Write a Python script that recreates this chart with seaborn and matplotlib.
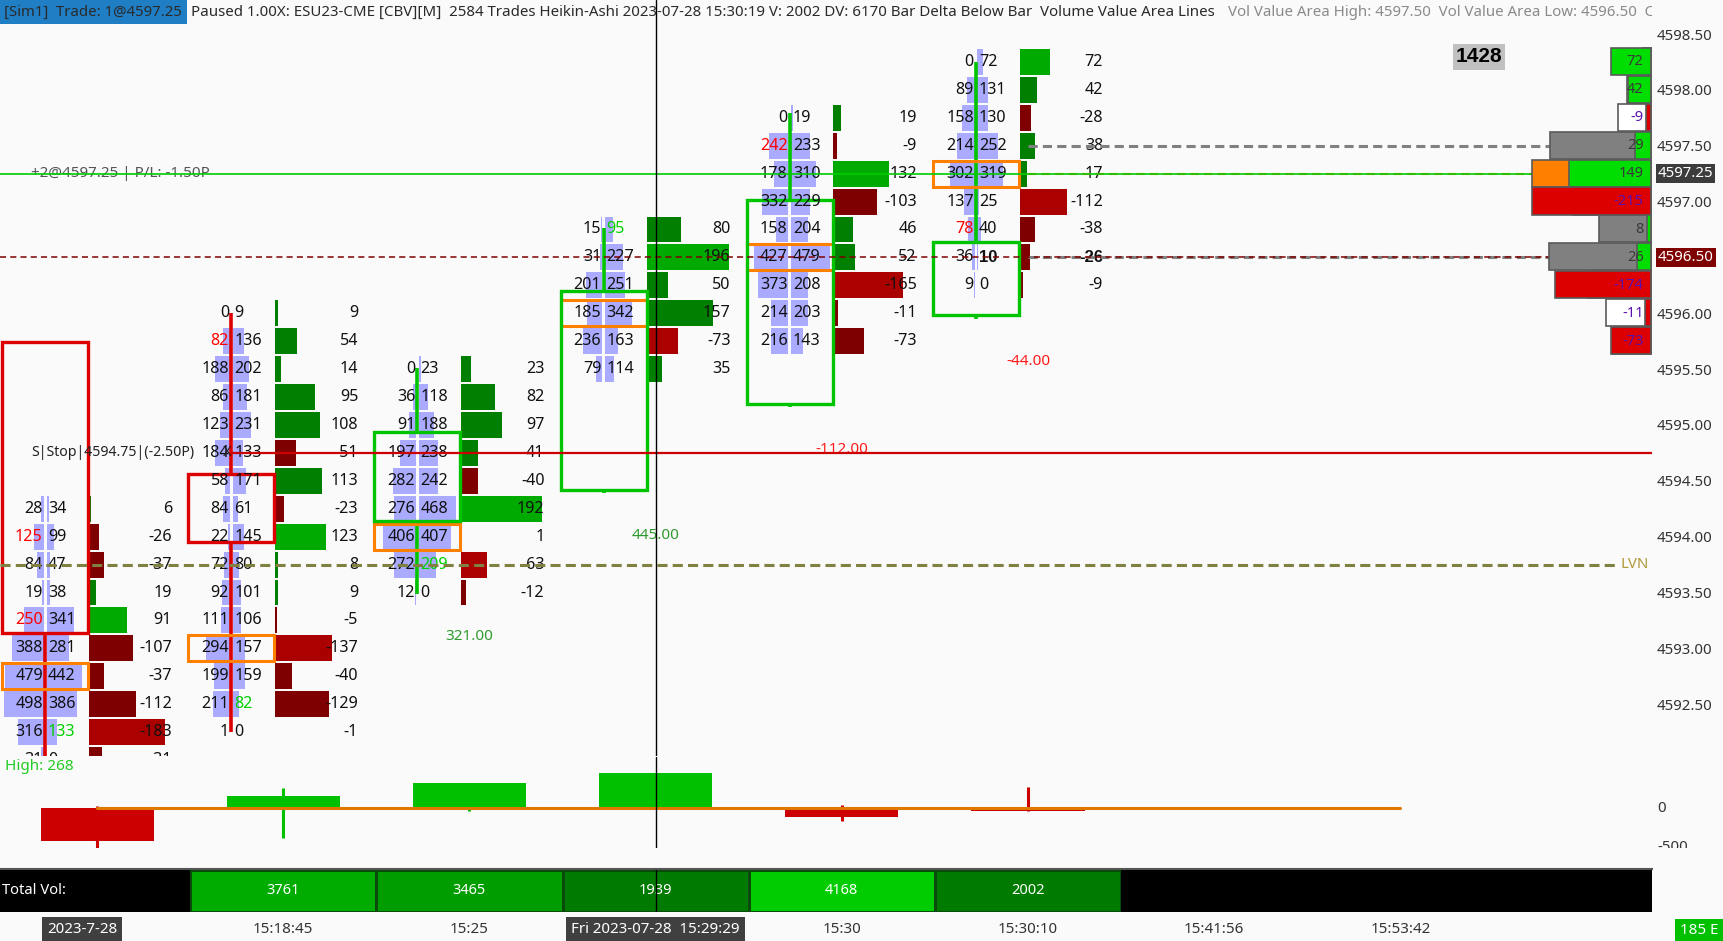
import numpy as np
import pandas as pd
import matplotlib
matplotlib.use("Agg")
import matplotlib.pyplot as plt
import matplotlib.transforms as mtransforms
from matplotlib.patches import Rectangle
from matplotlib.colors import LinearSegmentedColormap
import seaborn as sns

# ---------------- data ----------------
TICK = 0.25
bar_top = [4594.25, 4596.00, 4595.50, 4596.75, 4597.75, 4598.25]
bid_b1 = [28, 125, 84, 19, 250, 388, 479, 498, 316, 31]
ask_b1 = [34, 99, 47, 38, 341, 281, 442, 386, 133, 0]
bid_b2 = [0, 82, 188, 86, 123, 184, 58, 84, 22, 72, 92, 111, 294, 199, 211, 1]
ask_b2 = [9, 136, 202, 181, 231, 133, 171, 61, 145, 80, 101, 106, 157, 159, 82, 0]
bid_b3 = [0, 36, 91, 197, 282, 276, 406, 272, 12]
ask_b3 = [23, 118, 188, 238, 242, 468, 407, 209, 0]
bid_b4 = [15, 31, 201, 185, 236, 79]
ask_b4 = [95, 227, 251, 342, 163, 114]
bid_b5 = [0, 242, 178, 332, 158, 427, 373, 214, 216]
ask_b5 = [19, 233, 310, 229, 204, 479, 208, 203, 143]
bid_b6 = [0, 89, 158, 214, 302, 137, 78, 36, 9]
ask_b6 = [72, 131, 130, 252, 319, 25, 40, 10, 0]

ha_open = [4595.74, 4594.56, 4594.14, 4594.42, 4595.19, 4595.98]
ha_close = [4593.14, 4593.95, 4594.94, 4596.20, 4597.01, 4596.64]
ha_high = [4595.74, 4596.00, 4595.51, 4596.76, 4597.79, 4598.25]
ha_low = [4591.75, 4592.25, 4593.49, 4594.39, 4595.16, 4595.95]

delta_high = [30, 250, 321, 445, 40, 260]
delta_low = [-540, -380, -40, 0, -170, -44]

time_labels = ["2023-7-28", "15:18:45", "15:25", "Fri 2023-07-28  15:29:29",
               "15:30", "15:30:10", "15:41:56", "15:53:42"]
price_ticks = [4592.5, 4593.0, 4593.5, 4594.0, 4594.5, 4595.0,
               4595.5, 4596.0, 4596.5, 4597.0, 4597.5, 4598.0, 4598.5]
low_ticks = [0, -500]

position_price = 4597.25
stop_price = 4594.75
last_price = 4596.50
lvn_price = 4593.75
va_high = 4597.50
va_low = 4596.50
profile_start = 4
crosshair_slot = 3
imbalance_ratio = 3

bids = [bid_b1, bid_b2, bid_b3, bid_b4, bid_b5, bid_b6]
asks = [ask_b1, ask_b2, ask_b3, ask_b4, ask_b5, ask_b6]

# ---------------- style ----------------
sns.set_theme(style="white")
plt.rcParams["font.family"] = ["Noto Sans", "DejaVu Sans"]
plt.rcParams["axes.unicode_minus"] = False
BOLD_FAM = ["Liberation Sans", "DejaVu Sans"]

BG = "#FAFAFA"
LAV = "#AAAAFF"
G_HI, G_LO = "#00AA00", "#007F00"
R_HI, R_LO = "#AA0000", "#7F0000"
CAN_G, CAN_R = "#00C400", "#DD0000"
ORANGE = "#FF8000"
TXT = "#111111"

W, H = 1723, 941
PX_SLOT = 186.2
X0 = 97.0
PANEL_R = 1652
PX_PRICE = 111.7
Y_REF = 34.0
DU = 12.6  # delta units per px (lower panel)
LOW_TOP, LOW_ZERO, LOW_BOT = 757, 808, 848


def sx(px):
    return (px - X0) / PX_SLOT


def rect(x0, y0, x1, y1):
    return [x0 / W, 1 - y1 / H, (x1 - x0) / W, (y1 - y0) / H]


FP_OFF = sx(45)
BOX_L, BOX_R = sx(2), sx(88)
DBAR_L = sx(88.5)
DTXT_R = sx(172)
GAP = 1.5 / PX_SLOT
KV = 0.08 / PX_SLOT
KD = 0.42 / PX_SLOT
CELL_H = 0.232
FS = 11.6

fig = plt.figure(figsize=(W / 100, H / 100), dpi=100, facecolor=BG)

# ---------------- main price panel ----------------
ax = fig.add_axes(rect(0, 0, PANEL_R, 756))
ax.set_facecolor(BG)
top_tick = max(price_ticks)
ax.set_xlim(sx(0), sx(PANEL_R))
ax.set_ylim(top_tick - (756 - Y_REF) / PX_PRICE, top_tick + Y_REF / PX_PRICE)
for s in ax.spines.values():
    s.set_visible(False)
ax.set_xticks([])
ax.yaxis.tick_right()
ax.set_yticks(price_ticks)
ax.set_yticklabels([f"{p:.2f}" for p in price_ticks])
ax.tick_params(axis="y", length=0, pad=3.6, labelsize=10.8, labelcolor="#333333")

for i, (top, b, a) in enumerate(zip(bar_top, bids, asks)):
    b = np.asarray(b)
    a = np.asarray(a)
    n = len(b)
    prices = top - TICK * np.arange(n)
    d = a - b
    xc = i + FP_OFF
    ax.barh(prices, -b * KV, left=xc - GAP, height=CELL_H, color=LAV, zorder=2, linewidth=0)
    ax.barh(prices, a * KV, left=xc + GAP, height=CELL_H, color=LAV, zorder=2, linewidth=0)
    cols = [(G_HI if v == d.max() else G_LO) if v >= 0 else (R_HI if v == d.min() else R_LO) for v in d]
    ax.barh(prices, np.abs(d) * KD, left=i + DBAR_L, height=CELL_H, color=cols, zorder=2, linewidth=0)

    poc = prices[np.argmax(a + b)]
    ax.add_patch(Rectangle((i + BOX_L, poc - 0.117), BOX_R - BOX_L, 0.234, fill=False,
                           ec=ORANGE, lw=2.2, zorder=4))

    o, c = ha_open[i], ha_close[i]
    col = CAN_G if c >= o else CAN_R
    lo_b, hi_b = min(o, c), max(o, c)
    ax.add_patch(Rectangle((i + BOX_L, lo_b), BOX_R - BOX_L, hi_b - lo_b, fill=False,
                           ec=col, lw=2.4, zorder=4))
    if ha_high[i] > hi_b:
        ax.plot([xc, xc], [hi_b, ha_high[i]], color=col, lw=2.6, zorder=3, solid_capstyle="butt")
    if ha_low[i] < lo_b:
        ax.plot([xc, xc], [ha_low[i], lo_b], color=col, lw=2.6, zorder=3, solid_capstyle="butt")

    for k in range(n):
        bid_col = "#FF0000" if (k > 0 and b[k] > 0 and b[k] >= imbalance_ratio * a[k - 1]) else TXT
        ask_col = "#00D000" if (k < n - 1 and a[k] > 0 and a[k] >= imbalance_ratio * b[k + 1]) else TXT
        bold = (i == len(bids) - 1 and prices[k] == last_price)
        bkw = dict(fontweight="bold", family=BOLD_FAM, fontsize=FS + 0.4) if bold else dict(fontsize=FS)
        ax.text(xc - 0.012, prices[k], str(b[k]), ha="right", va="center", fontsize=FS,
                color=bid_col, zorder=5, clip_on=True)
        ax.text(xc + 0.016, prices[k], str(a[k]), ha="left", va="center",
                color=ask_col, zorder=5, clip_on=True, **bkw)
        ax.text(i + DTXT_R, prices[k], str(d[k]), ha="right", va="center",
                color=TXT, zorder=5, clip_on=True, **bkw)

    tot_delta = int(d.sum())
    ax.text(i, ha_low[i] - 0.38, f"{tot_delta:.2f}", ha="center", va="center", fontsize=11,
            color="#2E9B2E" if tot_delta >= 0 else "#FF1A1A", zorder=5, clip_on=True)

# ---------------- horizontal lines ----------------
R = sx(1651)
ax.axhline(position_price, color="#00CC00", lw=1.2, zorder=6.7)
ax.hlines(stop_price, 1 + FP_OFF, sx(PANEL_R), color="#CC0000", lw=1.6, zorder=6)
ax.hlines(lvn_price, sx(0), R - 0.18, color="#808040", lw=2.2, ls=(0, (3.3, 1.7)), zorder=6)
ax.text(R - 0.165, lvn_price, "LVN", ha="left", va="center", fontsize=10.8, color="#B09A3A", zorder=6)
last_bar = len(bids) - 1
for p in (va_high, va_low):
    ax.hlines(p, last_bar, R, color="#808080", lw=2.2, ls=(0, (3, 1.7)), zorder=6.2)

# ---------------- volume profile (last bars) ----------------
prof = {}
for i in range(profile_start, len(bids)):
    prices = bar_top[i] - TICK * np.arange(len(bids[i]))
    for p, b, a in zip(prices, bids[i], asks[i]):
        v0, d0 = prof.get(p, (0, 0))
        prof[p] = (v0 + b + a, d0 + a - b)
pdf = pd.DataFrame([(p, v, dd) for p, (v, dd) in prof.items()], columns=["price", "vol", "delta"])
prof_poc = pdf.loc[pdf["vol"].idxmax(), "price"]
ax.hlines(prof_poc, last_bar, R, color=ORANGE, lw=1.5, ls=(0, (4, 2.5)), zorder=6.2)
ax.axhline(last_price, color="#7F0000", lw=1.1, ls=(0, (4, 2.7)), zorder=6.6)

WMAX = 119 / PX_SLOT
vmax = pdf["vol"].max()
dmax = pdf["delta"].abs().max()
for _, r in pdf.iterrows():
    p, v, dd = r["price"], r["vol"], r["delta"]
    vw = v / vmax * WMAX
    if p == prof_poc:
        fc = ORANGE
    elif va_low <= p <= va_high:
        fc = "#808080"
    else:
        fc = "white"
    ax.add_patch(Rectangle((R - vw, p - CELL_H / 2), vw, CELL_H + 0.01, fc=fc, ec="#5A5A5A",
                           lw=1.2, zorder=7))
    dw = abs(dd) / dmax * WMAX
    ax.add_patch(Rectangle((R - dw, p - CELL_H / 2), dw, CELL_H + 0.01,
                           fc="#00DD00" if dd >= 0 else "#DD0000", ec="#5A5A5A", lw=1.2, zorder=7.1))
    ax.text(R - 0.04, p, str(int(dd)), ha="right", va="center", fontsize=10.5,
            color="#3A3A3A" if dd >= 0 else "#5A10B0", zorder=8)

# right-axis highlighted prices
btrans = mtransforms.blended_transform_factory(ax.transAxes, ax.transData)
ax.text(1 + 6 / PANEL_R, position_price, f"{position_price:.2f}", transform=btrans, ha="left",
        va="center", fontsize=10.8, color="white", zorder=10, clip_on=False,
        bbox=dict(boxstyle="square,pad=0.12", fc="#3C3C3C", ec="none"))
ax.text(1 + 6 / PANEL_R, last_price, f"{last_price:.2f}", transform=btrans, ha="left",
        va="center", fontsize=10.8, color="white", zorder=10, clip_on=False,
        bbox=dict(boxstyle="square,pad=0.12", fc="#7F0000", ec="none"))

# order texts
t_pos = ax.text(sx(31), position_price, f"+2@{position_price:.2f} | P/L: -1.50P", ha="left",
                va="center", fontsize=10.5, color="#555555", zorder=5.5)
t_stop = ax.text(sx(31), stop_price, f"S|Stop|{stop_price:.2f}|(-2.50P)", ha="left",
                 va="center", fontsize=10.5, color="#222222", zorder=5.5)
ax.text(sx(227), stop_price, "X", ha="center", va="center", fontsize=10.5, color="#222222", zorder=6.5)

# crosshair
ax.axvline(crosshair_slot, color="black", lw=1.0, zorder=9)

# "1428" box
ax.text(1479 / PANEL_R, 1 - 57 / 756, "1428", transform=ax.transAxes, ha="center", va="center",
        fontsize=15, fontweight="bold", family=BOLD_FAM, color="black", zorder=10,
        bbox=dict(boxstyle="square,pad=0.15", fc="#C0C0C0", ec="none"))

# header
ax.add_patch(Rectangle((0, 1 - 24 / 756), 187 / PANEL_R, 24 / 756, transform=ax.transAxes,
                       fc="#1F7EC4", ec="none", zorder=20, clip_on=False))
hy = 1 - 12 / 756
h1 = ax.text(4 / PANEL_R, hy, f"[Sim1]  Trade: 1@{position_price:.2f}", transform=ax.transAxes,
             ha="left", va="center", fontsize=11, color="#2A2A2A", zorder=21)
h2 = ax.text(191 / PANEL_R, hy,
             "Paused 1.00X: ESU23-CME [CBV][M]  2584 Trades Heikin-Ashi 2023-07-28 15:30:19 V: 2002 "
             "DV: 6170 Bar Delta Below Bar  Volume Value Area Lines", transform=ax.transAxes,
             ha="left", va="center", fontsize=11, color="#2A2A2A", zorder=21)
h3 = ax.text(1227.5 / PANEL_R, hy,
             f"Vol Value Area High: {va_high:.2f}  Vol Value Area Low: {va_low:.2f}",
             transform=ax.transAxes, ha="left", va="center", fontsize=11, color="#8A8A8A",
             zorder=21, clip_on=True)

# ---------------- lower delta panel ----------------
axl = fig.add_axes(rect(0, LOW_TOP, W, LOW_BOT))
axl.set_facecolor(BG)
axl.set_xlim(sx(0), sx(W))
axl.set_ylim(-(LOW_BOT - LOW_ZERO) * DU, (LOW_ZERO - LOW_TOP) * DU)
for s in axl.spines.values():
    s.set_visible(False)
axl.set_xticks([])
axl.set_yticks([])
slots = np.arange(len(bids))
bar_delta = [int((np.asarray(a) - np.asarray(b)).sum()) for b, a in zip(bids, asks)]
lcols = ["#00C000" if v >= 0 else "#CC0000" for v in bar_delta]
axl.vlines(slots, delta_low, delta_high, colors=lcols, lw=2.2, zorder=2)
axl.bar(slots, bar_delta, bottom=0, width=113 / PX_SLOT, color=lcols, zorder=3, linewidth=0)
axl.plot([0, len(time_labels) - 1], [0, 0], color="#E07800", lw=2.2, zorder=4)
axl.axvline(crosshair_slot, color="black", lw=1.0, zorder=9)
for v in low_ticks:
    axl.text(sx(1657), v, f"{v}", ha="left", va="center", fontsize=10.8, color="#333333", clip_on=True)
axl.text(5 / W, (LOW_BOT - 766) / (LOW_BOT - LOW_TOP), "High: 268", transform=axl.transAxes,
         ha="left", va="center", fontsize=11, color="#22CC22")

# ---------------- total volume strip ----------------
tot_vol = [int(sum(b) + sum(a)) for b, a in zip(bids, asks)]
axt = fig.add_axes(rect(0, 869, PANEL_R, 912))
axt.set_facecolor("black")
axt.set_xlim(sx(0), sx(PANEL_R))
axt.set_ylim(0, 1)
axt.set_xticks([])
axt.set_yticks([])
for s in axt.spines.values():
    s.set_visible(False)
axt.spines["top"].set_visible(True)
axt.spines["top"].set_color("#555555")
axt.spines["top"].set_linewidth(1.5)
t_tv = axt.text(2 / PANEL_R, 0.5, "Total Vol:", transform=axt.transAxes, ha="left", va="center",
                fontsize=10.3, color="white")
axh = fig.add_axes(rect(X0 + 0.5 * PX_SLOT, 870, X0 + 5.5 * PX_SLOT, 912))
cmap = LinearSegmentedColormap.from_list("tv", [(0, "#007A00"), (0.75, "#00A000"), (1, "#00CC00")])
vals = np.array([tot_vol[1:]])
sns.heatmap(vals, ax=axh, cmap=cmap, vmin=vals.min(), vmax=vals.max(), cbar=False,
            annot=np.array([[str(v) for v in tot_vol[1:]]]), fmt="",
            annot_kws=dict(color="white", fontsize=10.5), linewidths=0.8, linecolor="#0A4A0A",
            xticklabels=False, yticklabels=False)
axh.axvline(crosshair_slot - 0.5, color="black", lw=1.0, zorder=9)

# ---------------- time axis ----------------
axtm = fig.add_axes(rect(0, 912, W, H))
axtm.set_facecolor(BG)
axtm.set_xlim(sx(0), sx(W))
axtm.set_ylim(0, 1)
axtm.set_xticks([])
axtm.set_yticks([])
for s in axtm.spines.values():
    s.set_visible(False)
for k, lab in enumerate(time_labels):
    hl = (k == 0) or (k == crosshair_slot)
    tr = axtm.transData
    if k == 0:
        tr = mtransforms.offset_copy(axtm.transData, fig=fig, x=-15, y=0, units="dots")
    axtm.text(k, 0.38, lab, transform=tr, ha="center", va="center", fontsize=10.9,
              color="white" if hl else "#333333",
              bbox=dict(boxstyle="square,pad=0.35", fc="#404040", ec="none") if hl else None)
fig.text(1680 / W, 1 - 931 / H, "185 E", ha="left", va="center", fontsize=10.9, color="white",
         bbox=dict(boxstyle="square,pad=0.3", fc="#00C000", ec="none"))

# ---------------- fit header text widths ----------------
fig.canvas.draw()
rend = fig.canvas.get_renderer()


def fit(t, target):
    w = t.get_window_extent(renderer=rend).width
    t.set_fontsize(t.get_fontsize() * target / w)


fit(h1, 178)
fit(h2, 1026)
fit(h3, 409)
fit(t_pos, 178)
fit(t_stop, 163)
fit(t_tv, 64)
h3.set_text(h3.get_text() + "  C")

fig.savefig("out.png", dpi=100, facecolor=BG)
